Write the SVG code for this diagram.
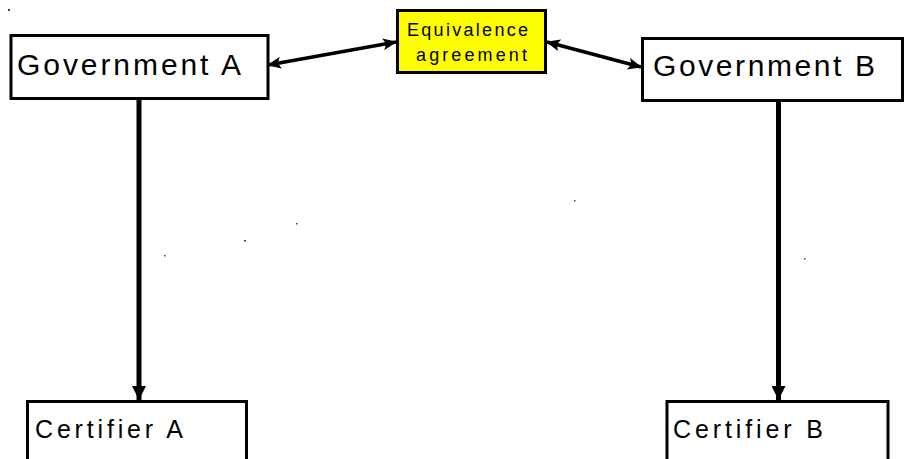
<svg xmlns="http://www.w3.org/2000/svg" width="904" height="459" viewBox="0 0 904 459">
<style>
.box{fill:#fff;stroke:#000;stroke-width:3}
.yel{fill:#ffff00;stroke:#000;stroke-width:3}
.t{font-family:"Liberation Sans",Arial,sans-serif;fill:#000}
.c{stroke:#000;fill:none}
.dot{fill:#444}
</style>
<defs>
<marker id="ah" markerUnits="userSpaceOnUse" markerWidth="14" markerHeight="12" refX="13" refY="6" orient="auto-start-reverse" viewBox="0 0 14 12">
<path d="M0,0 L14,6 L0,12 L3,6 Z" fill="#000"/>
</marker>
<marker id="av" markerUnits="userSpaceOnUse" markerWidth="14" markerHeight="14" refX="14" refY="7" orient="auto" viewBox="0 0 14 14">
<path d="M0,0 L14,7 L0,14 Z" fill="#000"/>
</marker>
</defs>
<rect width="904" height="459" fill="#fff"/>
<g id="connectors">
<line class="c" x1="268" y1="65" x2="396" y2="42" stroke-width="3.5" marker-start="url(#ah)" marker-end="url(#ah)"/>
<line class="c" x1="547" y1="42" x2="641" y2="67" stroke-width="3.5" marker-start="url(#ah)" marker-end="url(#ah)"/>
<line class="c" x1="139" y1="100" x2="139" y2="400" stroke-width="5" marker-end="url(#av)"/>
<line class="c" x1="778.5" y1="101" x2="778.5" y2="400" stroke-width="5" marker-end="url(#av)"/>
</g>
<g id="govA">
<rect class="box" x="11" y="35.5" width="257" height="63"/>
<text class="t" x="17" y="75" font-size="30" textLength="224" lengthAdjust="spacing">Government A</text>
</g>
<g id="equiv">
<rect class="yel" x="397.5" y="10.5" width="148" height="62"/>
<text class="t" x="407" y="36" font-size="18" textLength="121" lengthAdjust="spacing">Equivalence</text>
<text class="t" x="416" y="61" font-size="18" textLength="111" lengthAdjust="spacing">agreement</text>
</g>
<g id="govB">
<rect class="box" x="642.5" y="38.5" width="260" height="62"/>
<text class="t" x="653" y="76" font-size="30" textLength="222" lengthAdjust="spacing">Government B</text>
</g>
<g id="certA">
<rect class="box" x="27.5" y="401.5" width="219" height="70"/>
<text class="t" x="35" y="438" font-size="25" textLength="148" lengthAdjust="spacing">Certifier A</text>
</g>
<g id="certB">
<rect class="box" x="667" y="401.5" width="221" height="70"/>
<text class="t" x="673" y="438" font-size="25" textLength="150" lengthAdjust="spacing">Certifier B</text>
</g>
<g id="dots">
<rect class="dot" x="8" y="9" width="2" height="2"/>
<rect class="dot" x="164" y="255" width="1.5" height="1.5"/>
<rect class="dot" x="244" y="240" width="2" height="1.5"/>
<rect class="dot" x="296" y="223" width="1.5" height="1.5"/>
<rect class="dot" x="574" y="200" width="1.5" height="1.5"/>
<rect class="dot" x="804" y="258" width="1.5" height="1.5"/>
</g>
</svg>
